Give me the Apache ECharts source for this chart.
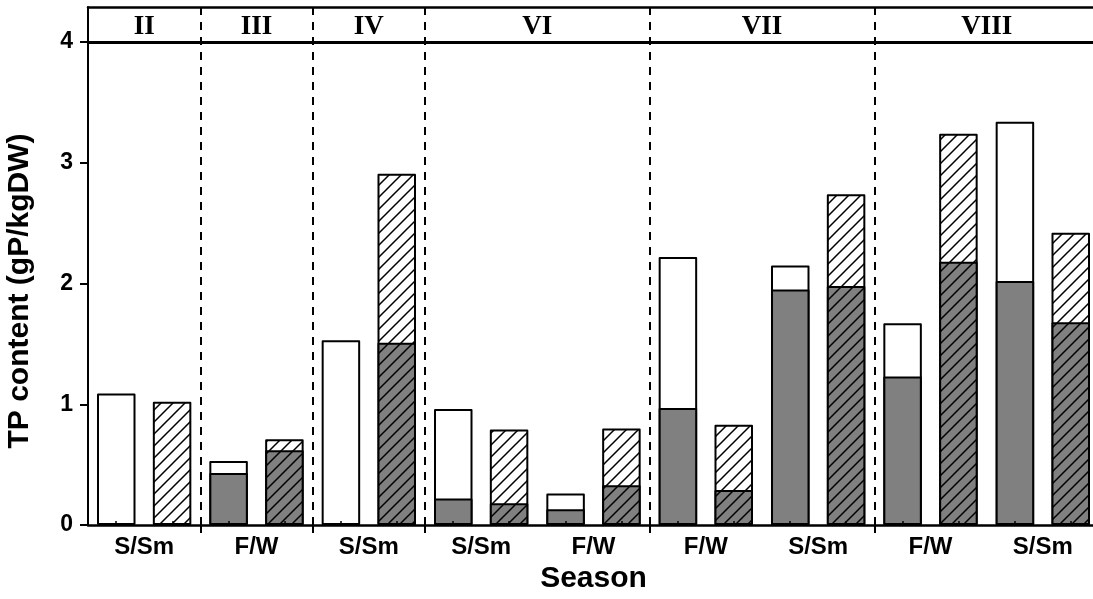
<!DOCTYPE html>
<html>
<head>
<meta charset="utf-8">
<script src="https://cdn.jsdelivr.net/npm/echarts@6/dist/echarts.min.js"></script>
<style>
  html, body { margin: 0; padding: 0; background: #fff; overflow: hidden; }
  #chart { width: 1093px; height: 599px; }
</style>
</head>
<body>
<div id="chart"></div>
<script>
// Season categories along the x axis
const categories = ['S/Sm', 'F/W', 'S/Sm', 'S/Sm', 'F/W', 'F/W', 'S/Sm', 'F/W', 'S/Sm'];
// Roman-numeral groups over the categories, and how many categories each spans
const groupNames = ['II', 'III', 'IV', 'VI', 'VII', 'VIII'];
const groupSizes = [1, 1, 1, 2, 2, 2];

// Left bar of each pair: total height (white) and lower part (gray)
const leftTotal = [1.09, 0.53, 1.53, 0.96, 0.26, 2.22, 2.15, 1.67, 3.34];
const leftLower = [null, 0.43, null, 0.22, 0.13, 0.97, 1.95, 1.23, 2.02];
// Right bar of each pair (hatched): total height and lower part (gray)
const rightTotal = [1.02, 0.71, 2.91, 0.79, 0.80, 0.83, 2.74, 3.24, 2.42];
const rightLower = [null, 0.62, 1.51, 0.18, 0.33, 0.29, 1.98, 2.18, 1.68];

// Y axis ticks
const yTicks = [0, 1, 2, 3, 4];

const GRAY = '#808080';
const FONT = "'Liberation Sans', Arial, sans-serif";
const SERIF = "'Liberation Serif', 'Times New Roman', serif";

// Diagonal hatching (///) as a repeating canvas pattern
function hatch(bg) {
  const s = 12;
  const c = document.createElement('canvas');
  c.width = s; c.height = s;
  const ctx = c.getContext('2d');
  ctx.fillStyle = bg;
  ctx.fillRect(0, 0, s, s);
  ctx.strokeStyle = '#000';
  ctx.lineWidth = 1.5;
  ctx.beginPath();
  ctx.moveTo(0, s); ctx.lineTo(s, 0);
  ctx.moveTo(-2, 2); ctx.lineTo(2, -2);
  ctx.moveTo(s - 2, s + 2); ctx.lineTo(s + 2, s - 2);
  ctx.stroke();
  return { image: c, repeat: 'repeat' };
}

// Category boundaries where one group ends and the next begins
const boundaries = new Set();
{
  let acc = 0;
  for (let i = 0; i < groupSizes.length - 1; i++) {
    acc += groupSizes[i];
    boundaries.add(acc);
  }
}
const isBoundary = (idx) => boundaries.has(idx);

const BAR_W = 38.5;
const BAR_GAP = '45%';
const barBase = {
  type: 'bar',
  barWidth: BAR_W,
  barGap: BAR_GAP,
  animation: false,
  silent: true
};
const border = { borderColor: '#000', borderWidth: 2, borderJoin: 'round' };

const chart = echarts.init(document.getElementById('chart'), null, { renderer: 'canvas' });

const option = {
  animation: false,
  backgroundColor: '#fff',
  // the plot runs slightly past the right edge of the canvas
  grid: { left: 88, right: -6, top: 7, bottom: 74, containLabel: false, outerBoundsMode: 'none' },
  xAxis: [
    {
      type: 'category',
      data: categories,
      position: 'bottom',
      boundaryGap: true,
      name: 'Season',
      nameLocation: 'middle',
      nameGap: 39,
      nameTextStyle: { fontFamily: FONT, fontWeight: 'bold', fontSize: 30, color: '#000' },
      axisLine: { show: true, lineStyle: { color: '#000', width: 2.5 } },
      axisTick: {
        show: true,
        interval: (i) => isBoundary(i),
        length: 15,
        lineStyle: { color: '#000', width: 2, type: [8, 7] }
      },
      axisLabel: {
        interval: 0,
        margin: 10,
        fontFamily: FONT, fontWeight: 'bold', fontSize: 24, color: '#000'
      },
      splitLine: {
        show: true,
        interval: (i) => isBoundary(i),
        lineStyle: { color: '#000', width: 2, type: [8, 7] }
      },
      z: 3
    },
    {
      type: 'category',
      data: categories,
      position: 'bottom',
      show: false
    },
    {
      // small inward ticks under each bar position
      type: 'category',
      data: categories.flatMap(() => ['', '']),
      position: 'bottom',
      axisLine: { show: false },
      axisLabel: { show: false },
      axisTick: { show: true, inside: true, alignWithLabel: true, length: 4, lineStyle: { color: '#000', width: 1.5 } },
      splitLine: { show: false },
      z: 6
    },
    {
      // top border of the header band
      type: 'category',
      data: categories,
      position: 'top',
      axisLine: { show: true, lineStyle: { color: '#000', width: 2.5 } },
      axisTick: { show: false },
      axisLabel: { show: false },
      splitLine: { show: false }
    }
  ],
  yAxis: {
    type: 'value',
    min: 0,
    max: 4.29,
    interval: 1,
    name: 'TP content (gP/kgDW)',
    nameLocation: 'middle',
    nameGap: 53,
    nameTextStyle: {
      fontFamily: FONT, fontWeight: 'bold', fontSize: 30, color: '#000',
      padding: [0, 50, 0, 0]
    },
    axisLine: { show: true, lineStyle: { color: '#000', width: 2 } },
    axisTick: { show: true, inside: false, length: 8, customValues: yTicks, lineStyle: { color: '#000', width: 2 } },
    axisLabel: {
      customValues: yTicks,
      margin: 15,
      fontFamily: FONT, fontWeight: 'bold', fontSize: 23, color: '#000'
    },
    splitLine: { show: false }
  },
  series: [
    Object.assign({}, barBase, {
      name: 'left total',
      xAxisIndex: 0,
      data: leftTotal,
      itemStyle: Object.assign({ color: '#fff' }, border),
      markLine: {
        silent: true,
        symbol: 'none',
        label: { show: false },
        lineStyle: { color: '#000', width: 3, type: 'solid' },
        data: [{ yAxis: yTicks[yTicks.length - 1] }],
        z: 4
      }
    }),
    Object.assign({}, barBase, {
      name: 'right total',
      xAxisIndex: 0,
      data: rightTotal,
      itemStyle: Object.assign({ color: hatch('#fff') }, border)
    }),
    Object.assign({}, barBase, {
      name: 'left lower',
      xAxisIndex: 1,
      data: leftLower,
      itemStyle: Object.assign({ color: GRAY }, border)
    }),
    Object.assign({}, barBase, {
      name: 'right lower',
      xAxisIndex: 1,
      data: rightLower,
      itemStyle: Object.assign({ color: hatch(GRAY) }, border)
    })
  ]
};

chart.setOption(option);

// Group labels in the header band, centred over the categories they span
function drawHeader() {
  const yMid = (yTicks[yTicks.length - 1] + option.yAxis.max) / 2;
  const py = chart.convertToPixel({ yAxisIndex: 0 }, yMid) + 3;
  const elements = [];
  let start = 0;
  groupNames.forEach((name, g) => {
    const end = start + groupSizes[g] - 1;
    const x0 = chart.convertToPixel({ xAxisIndex: 0 }, start);
    const x1 = chart.convertToPixel({ xAxisIndex: 0 }, end);
    elements.push({
      type: 'text',
      x: (x0 + x1) / 2,
      y: py,
      silent: true,
      z: 10,
      style: {
        text: name,
        fill: '#000',
        font: "bold 27px " + SERIF,
        textAlign: 'center',
        textVerticalAlign: 'middle'
      }
    });
    start = end + 1;
  });
  chart.setOption({ graphic: elements });
}
drawHeader();
</script>
</body>
</html>
